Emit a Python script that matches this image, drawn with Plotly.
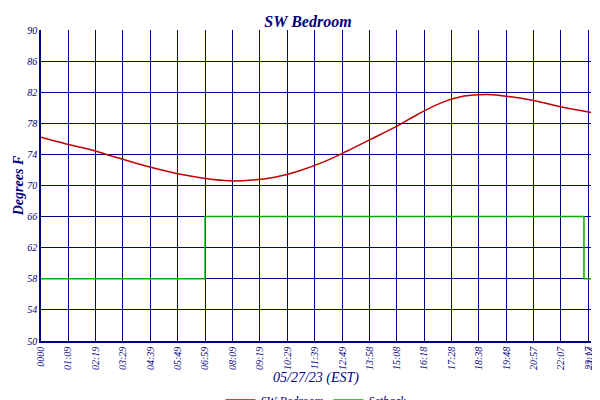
import plotly.graph_objects as go

temp_t = [0,1,2,3,4,5,6,7,8,9,10,11,12,13,14,15,16,17,18,19,20,21,22,23,23.4]
temp_v = [76.2,75.4,74.7,73.8,72.9,72.1,71.4,70.9,70.6,70.7,71.1,71.9,73.0,74.4,75.9,77.4,79.1,80.6,81.5,81.7,81.4,80.9,80.2,79.6,79.4]
set_t = [0,6.98,6.98,23.1,23.1,23.4]
set_v = [58,58,66,66,58,58]
tick_labels = ["0000","01:09","02:19","03:29","04:39","05:49","06:59","08:09","09:19","10:29","11:39","12:49","13:58","15:08","16:18","17:28","18:38","19:48","20:57","22:07","23:17","23:24"]
def h(s):
    s=s.replace(":","")
    return int(s[:2])+int(s[2:])/60
tick_vals=[h(s) for s in tick_labels]
yt=[50,54,58,62,66,70,74,78,82,86,90]

font=dict(family="Liberation Serif",color="#000080")
fig=go.Figure()
fig.add_trace(go.Scatter(x=temp_t,y=temp_v,mode="lines",line=dict(color="#c00000",width=1.5,shape="spline"),name="<i>SW Bedroom</i>"))
fig.add_trace(go.Scatter(x=set_t,y=set_v,mode="lines",line=dict(color="#00b000",width=1.5),name="<i>Setback</i>"))
fig.add_trace(go.Scatter(x=[0],y=[None],yaxis="y2",showlegend=False))
ax=dict(showline=True,linecolor="#000080",linewidth=1.5,gridcolor="#000080",gridwidth=1,zeroline=False,automargin=False,
        tickfont=dict(family="Liberation Serif",size=10,color="#000080"))
fig.update_layout(width=600,height=400,plot_bgcolor="white",paper_bgcolor="white",
  title=dict(text="<b><i>SW Bedroom</i></b>",x=0.5,y=0.98,xanchor="center",font=dict(family="Liberation Serif",size=16,color="#000080")),
  margin=dict(l=33,r=17,t=22,b=67,autoexpand=False),
  xaxis=dict(ax,range=[0,23.4],tickvals=tick_vals,ticktext=[f"<i>{t}</i>" for t in tick_labels],tickangle=-90,
    title=dict(text="<i>05/27/23 (EST)</i>",font=dict(family="Liberation Serif",size=14,color="#000080"),standoff=2)),
  yaxis=dict(ax,range=[50,90],tickvals=yt,ticktext=[f"<i>{v}</i>" for v in yt],
    title=dict(text="<b><i>Degrees F</i></b>",font=dict(family="Liberation Serif",size=14,color="#000080"),standoff=0)),
  yaxis2=dict(overlaying="y",side="right",range=[50,90],tickvals=yt,ticktext=[f"<i>{v}</i>" for v in yt],showgrid=False,automargin=False,
    tickfont=dict(family="Liberation Serif",size=10,color="#000080")),
  legend=dict(orientation="h",x=0.5,xanchor="center",y=-0.19,yanchor="middle",font=dict(family="Liberation Serif",size=12,color="#000080"),itemwidth=30),
  font=font)
fig.write_html("out.html")
